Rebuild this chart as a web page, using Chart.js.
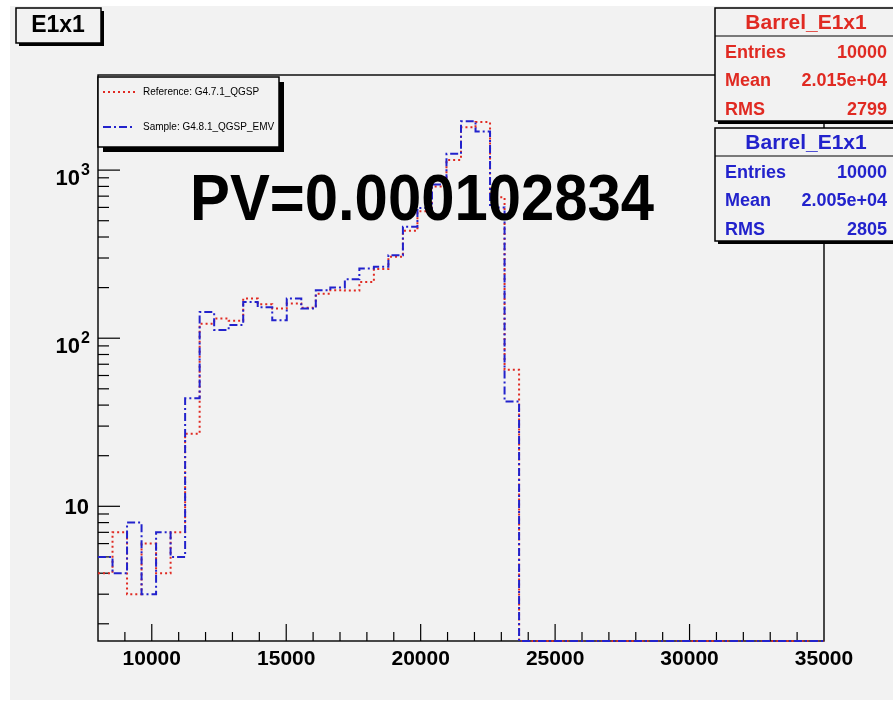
<!DOCTYPE html>
<html>
<head>
<meta charset="utf-8">
<title>E1x1</title>
<script src="https://cdn.jsdelivr.net/npm/chart.js@4.4.1/dist/chart.umd.min.js"></script>
<style>
  html, body { margin: 0; padding: 0; background: #fff; }
  canvas { display: block; }
</style>
</head>
<body>
<canvas id="myChart" width="893" height="704"></canvas>
<script>
// histogram binning: 50 bins from 8000 to 35000
const xMin = 8000;
const xMax = 35000;
const nBins = 50;

// bin contents, Reference: G4.7.1_QGSP
const reference = [
    4, 7, 3, 6, 4, 7, 27, 122, 131, 127,
    172, 159, 150, 161, 152, 184, 193, 192, 216, 258,
    305, 436, 570, 800, 1150, 1800, 1930, 690, 65, 0,
    0, 0, 0, 0, 0, 0, 0, 0, 0, 0,
    0, 0, 0, 0, 0, 0, 0, 0, 0, 0
];

// bin contents, Sample: G4.8.1_QGSP_EMV
const sample = [
    5, 4, 8, 3, 7, 5, 44, 143, 112, 120,
    164, 153, 128, 172, 150, 193, 200, 224, 260, 266,
    312, 460, 595, 820, 1250, 1950, 1700, 600, 42, 0,
    0, 0, 0, 0, 0, 0, 0, 0, 0, 0,
    0, 0, 0, 0, 0, 0, 0, 0, 0, 0
];

const xTickLabels = [10000, 15000, 20000, 25000, 30000, 35000];
const yTickLabels = [10, 100, 1000];
const yMin = 1.58;
const yMax = 3680;

const statNames = ['Entries', 'Mean', 'RMS'];
const refStats = ['10000', '2.015e+04', '2799'];
const sampleStats = ['10000', '2.005e+04', '2805'];

const RED = '#e02a22';
const BLUE = '#2222cc';
const BG = '#f2f2f2';
const FONT = "'Liberation Sans', Arial, Helvetica, sans-serif";

const binWidth = (xMax - xMin) / nBins;

// one point per bin low edge, plus the closing edge; empty bins sit on the frame
function histPoints(values) {
    const pts = values.map((v, i) => ({ x: xMin + i * binWidth, y: v > 0 ? v : yMin }));
    pts.push({ x: xMax, y: pts[pts.length - 1].y });
    return pts;
}

function line(ctx, x1, y1, x2, y2) {
    ctx.beginPath();
    ctx.moveTo(x1, y1);
    ctx.lineTo(x2, y2);
    ctx.stroke();
}

// box with the dark drop shadow on the right and bottom
function shadowBox(ctx, x, y, w, h, s) {
    ctx.fillStyle = BG;
    ctx.fillRect(x, y, w, h);
    ctx.fillStyle = '#000';
    ctx.fillRect(x + s, y + h, w, s);
    ctx.fillRect(x + w, y + s, s, h);
    ctx.strokeStyle = '#000';
    ctx.lineWidth = 1.5;
    ctx.strokeRect(x, y, w, h);
}

function statsBox(ctx, top, color, values) {
    const x = 715, w = 182, h = 113;
    shadowBox(ctx, x, top, w, h, 3);
    ctx.strokeStyle = '#000';
    ctx.lineWidth = 1.2;
    line(ctx, x, top + 28, x + w, top + 28);
    ctx.fillStyle = color;
    ctx.textBaseline = 'middle';
    ctx.textAlign = 'center';
    ctx.font = 'bold 21px ' + FONT;
    ctx.fillText('Barrel_E1x1', 806, top + 15);
    ctx.font = 'bold 18px ' + FONT;
    statNames.forEach((name, i) => {
        const yy = top + 45 + i * 28.3;
        ctx.textAlign = 'left';
        ctx.fillText(name, 725, yy);
        ctx.textAlign = 'right';
        ctx.fillText(values[i], 887, yy);
    });
}

const frameAndAxes = {
    id: 'frameAndAxes',
    beforeDraw(chart) {
        const ctx = chart.ctx;
        ctx.save();
        ctx.fillStyle = '#fff';
        ctx.fillRect(0, 0, chart.width, chart.height);
        ctx.fillStyle = BG;
        ctx.fillRect(10, 6, chart.width - 10, 694);
        ctx.restore();
    },
    beforeDatasetsDraw(chart) {
        const { ctx, chartArea: a, scales: { x, y } } = chart;
        ctx.save();
        ctx.strokeStyle = '#000';
        ctx.lineWidth = 1.4;
        ctx.strokeRect(a.left, a.top, a.right - a.left, a.bottom - a.top);

        ctx.lineWidth = 1.2;
        for (let v = xMin + 1000; v < xMax; v += 1000) {
            const px = x.getPixelForValue(v);
            line(ctx, px, a.bottom, px, a.bottom - (v % 5000 === 0 ? 17 : 9));
        }
        for (let d = 0; d <= 3; d++) {
            for (let m = 1; m <= 9; m++) {
                const v = m * Math.pow(10, d);
                if (v <= yMin || v >= yMax) continue;
                const py = y.getPixelForValue(v);
                line(ctx, a.left, py, a.left + (m === 1 ? 22 : 11), py);
            }
        }

        ctx.fillStyle = '#000';
        ctx.font = 'bold 21px ' + FONT;
        ctx.textAlign = 'center';
        ctx.textBaseline = 'alphabetic';
        xTickLabels.forEach(v => {
            ctx.fillText(String(v), x.getPixelForValue(v), 665);
        });

        ctx.textAlign = 'right';
        yTickLabels.forEach(v => {
            const py = y.getPixelForValue(v);
            const exp = Math.round(Math.log10(v));
            if (exp === 1) {
                ctx.font = 'bold 22px ' + FONT;
                ctx.fillText('10', 89, py + 8);
            } else {
                ctx.font = 'bold 16px ' + FONT;
                ctx.fillText(String(exp), 90, py + 5);
                ctx.font = 'bold 22px ' + FONT;
                ctx.fillText('10', 80, py + 15);
            }
        });
        ctx.restore();
    },
    afterDraw(chart) {
        const ctx = chart.ctx;
        ctx.save();

        // title box
        shadowBox(ctx, 16, 8, 85, 35, 3);
        ctx.fillStyle = '#000';
        ctx.font = 'bold 23px ' + FONT;
        ctx.textAlign = 'center';
        ctx.textBaseline = 'middle';
        ctx.fillText('E1x1', 58, 26);

        // legend
        shadowBox(ctx, 98, 77, 181, 70, 5);
        ctx.lineWidth = 2;
        ctx.strokeStyle = RED;
        ctx.setLineDash([2, 3]);
        line(ctx, 103, 92, 136, 92);
        ctx.strokeStyle = BLUE;
        ctx.setLineDash([8, 3, 2, 3]);
        line(ctx, 103, 127, 134, 127);
        ctx.setLineDash([]);
        ctx.fillStyle = '#000';
        ctx.font = '10px ' + FONT;
        ctx.textAlign = 'left';
        ctx.fillText('Reference: G4.7.1_QGSP', 143, 92);
        ctx.fillText('Sample: G4.8.1_QGSP_EMV', 143, 127);

        // stats boxes
        statsBox(ctx, 8, RED, refStats);
        statsBox(ctx, 128, BLUE, sampleStats);

        // compatibility p-value
        ctx.translate(422, 220);
        ctx.scale(0.92, 1);
        ctx.fillStyle = '#000';
        ctx.font = 'bold 65px ' + FONT;
        ctx.textAlign = 'center';
        ctx.textBaseline = 'alphabetic';
        ctx.fillText('PV=0.000102834', 0, 0);
        ctx.restore();
    }
};

const ctx = document.getElementById('myChart').getContext('2d');
const myChart = new Chart(ctx, {
    type: 'line',
    data: {
        datasets: [{
            label: 'Sample: G4.8.1_QGSP_EMV',
            data: histPoints(sample),
            borderColor: BLUE,
            borderWidth: 2,
            borderDash: [8, 3, 2, 3],
            stepped: 'before',
            pointRadius: 0,
            clip: 4,
            order: 0
        },
        {
            label: 'Reference: G4.7.1_QGSP',
            data: histPoints(reference),
            borderColor: RED,
            borderWidth: 2,
            borderDash: [2, 3],
            stepped: 'before',
            pointRadius: 0,
            clip: 4,
            order: 1
        }]
    },
    options: {
        responsive: false,
        devicePixelRatio: 1,
        animation: false,
        layout: {
            padding: { left: 98, right: 69, top: 75, bottom: 63 }
        },
        plugins: {
            legend: { display: false },
            tooltip: { enabled: false }
        },
        scales: {
            x: {
                type: 'linear',
                min: xMin,
                max: xMax,
                bounds: 'data',
                display: false
            },
            y: {
                type: 'logarithmic',
                min: yMin,
                max: yMax,
                bounds: 'data',
                display: false
            }
        }
    },
    plugins: [frameAndAxes]
});
</script>
</body>
</html>
